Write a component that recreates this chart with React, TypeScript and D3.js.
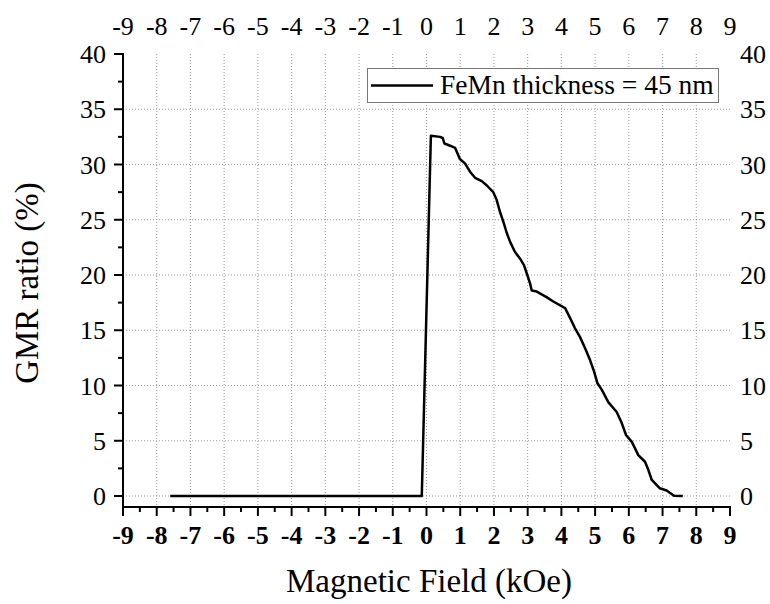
import React from "react";
import * as d3 from "d3";

// field (kOe) and GMR ratio (%)
const fieldKOe = [
  -7.6, -0.14, 0.13, 0.40, 0.48, 0.53, 0.70, 0.85, 0.99, 1.14, 1.29, 1.44, 1.64, 1.79,
  1.98, 2.08, 2.18, 2.28, 2.38, 2.48, 2.62, 2.77, 2.89, 2.99, 3.07, 3.12, 3.27, 3.56,
  3.76, 4.11, 4.26, 4.40, 4.55, 4.70, 4.85, 4.97, 5.07, 5.20, 5.39, 5.64, 5.79, 5.92,
  6.09, 6.28, 6.48, 6.58, 6.68, 6.92, 7.12, 7.34, 7.60,
];
const gmrRatio = [
  0, 0, 32.6, 32.5, 32.4, 31.9, 31.7, 31.5, 30.5, 30.1, 29.35, 28.8, 28.5, 28.1,
  27.5, 26.8, 25.7, 24.8, 23.8, 23.0, 22.1, 21.5, 20.9, 20.0, 19.25, 18.6, 18.5, 18.0,
  17.6, 17.0, 16.1, 15.2, 14.4, 13.4, 12.3, 11.25, 10.2, 9.6, 8.5, 7.6, 6.6, 5.5,
  4.9, 3.7, 3.1, 2.35, 1.45, 0.7, 0.5, 0.03, 0,
];

const xTicks = d3.range(-9, 10, 1);
const xMinorTicks = d3.range(-8.5, 9, 1);
const yTicks = [0, 5, 10, 15, 20, 25, 30, 35, 40];
const yMinorTicks = [2.5, 7.5, 12.5, 17.5, 22.5, 27.5, 32.5, 37.5];
const legendLabel = "FeMn thickness = 45 nm";
const xTitle = "Magnetic Field (kOe)";
const yTitle = "GMR ratio (%)";

const width = 770;
const height = 604;

const x = d3.scaleLinear().domain([-9, 9]).range([123, 730]);
const y = d3.scaleLinear().domain([0, 40]).range([496, 54]);
const bottomY = 507;

const tickFont = { fontFamily: "Liberation Serif", fontSize: "26px" };
const boldFont = { fontFamily: "Liberation Serif", fontSize: "26px", fontWeight: 700 };
const legendFont = { fontFamily: "Liberation Serif", fontSize: "27.5px" };
const titleFont = { fontFamily: "Liberation Serif", fontSize: "33px" };

export default function App() {
  const pts: [number, number][] = fieldKOe.map((f, i) => [f, gmrRatio[i]]);
  const line = d3.line<[number, number]>().x(d => x(d[0])).y(d => y(d[1]));
  const left = x(-9);

  return (
    <svg width={width} height={height}
      style={{ position: "absolute", left: 0, top: 0, background: "#fff" }}>
      {/* grid */}
      <g stroke="#9a9a9a" strokeWidth={1} strokeDasharray="1 2">
        {xTicks.filter(d => d > -9 && d < 9).map(d => (
          <line key={"gx" + d} x1={x(d)} x2={x(d)} y1={y(40)} y2={bottomY} />
        ))}
        {yTicks.filter(d => d < 40).map(d => (
          <line key={"gy" + d} x1={x(-9)} x2={x(9)} y1={y(d)} y2={y(d)} />
        ))}
      </g>

      {/* bottom axis */}
      <g stroke="#000" strokeWidth={2}>
        <line x1={x(-9) - 1} x2={x(9) + 1} y1={bottomY} y2={bottomY} />
        {xTicks.map(d => <line key={"tx" + d} x1={x(d)} x2={x(d)} y1={bottomY} y2={bottomY + 9} />)}
        {xMinorTicks.map(d => <line key={"mx" + d} x1={x(d)} x2={x(d)} y1={bottomY} y2={bottomY + 5} />)}
      </g>
      {xTicks.map(d => (
        <text key={"lx" + d} x={x(d)} y={544} textAnchor="middle" style={boldFont}>{String(d)}</text>
      ))}

      {/* left axis */}
      <g stroke="#000" strokeWidth={2}>
        <line x1={left} x2={left} y1={bottomY} y2={y(40) - 1} />
        {yTicks.map(d => <line key={"ty" + d} x1={left - 9} x2={left} y1={y(d)} y2={y(d)} />)}
        {yMinorTicks.map(d => <line key={"my" + d} x1={left - 5} x2={left} y1={y(d)} y2={y(d)} />)}
      </g>
      {yTicks.map(d => (
        <text key={"ly" + d} x={106} y={y(d) + 9} textAnchor="end" style={tickFont}>{String(d)}</text>
      ))}

      {/* right labels */}
      {yTicks.map(d => (
        <text key={"ry" + d} x={740} y={y(d) + 9} style={tickFont}>{String(d)}</text>
      ))}

      {/* top labels */}
      {xTicks.map(d => (
        <text key={"tl" + d} x={x(d)} y={35} textAnchor="middle" style={tickFont}>{String(d)}</text>
      ))}

      {/* curve */}
      <path d={line(pts) ?? ""} fill="none" stroke="#000" strokeWidth={2.5} strokeLinejoin="round" />

      {/* legend */}
      <rect x={367.5} y={68.5} width={351} height={34} fill="#fff" stroke="#777" strokeWidth={1} />
      <line x1={371} x2={433} y1={85.5} y2={85.5} stroke="#000" strokeWidth={2.5} />
      <text x={440} y={94} style={legendFont}>{legendLabel}</text>

      {/* axis titles */}
      <text x={429} y={592} textAnchor="middle" style={titleFont}>{xTitle}</text>
      <text transform="translate(38,283) rotate(-90)" textAnchor="middle" style={titleFont}>{yTitle}</text>
    </svg>
  );
}
